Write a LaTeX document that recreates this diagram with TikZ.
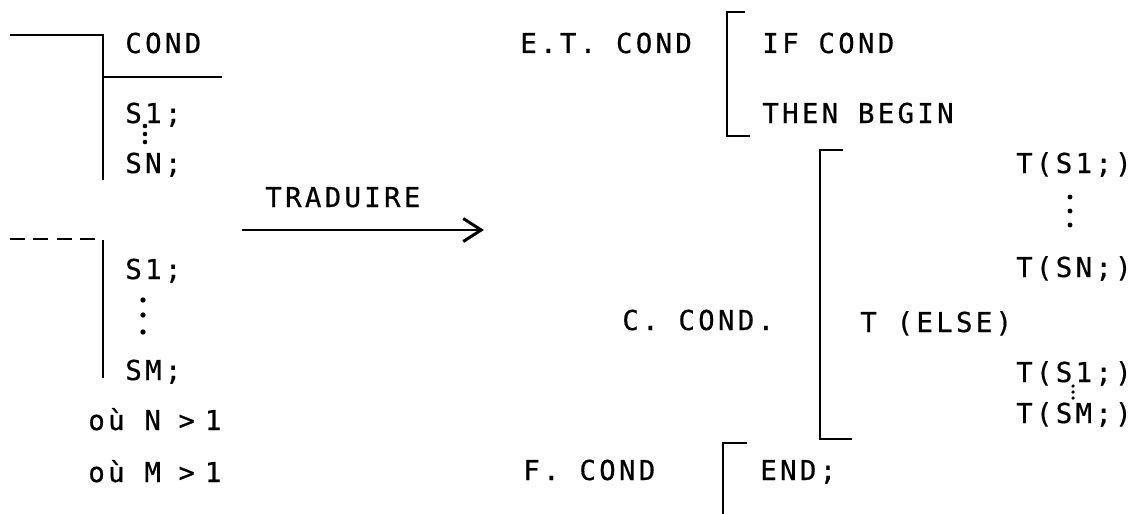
\documentclass[tikz,border=0pt]{standalone}
\usepackage{fontspec}
\setmonofont{DejaVu Sans Mono}[LetterSpace=12, FakeBold=0.6]
\usepackage{tikz}
\usetikzlibrary{arrows.meta}

\tikzset{
  txt/.style={font=\ttfamily\fontsize{15.6}{18}\selectfont, inner sep=0pt,
              text height=0.4cm, text depth=0pt},
  rule/.style={line width=1.7pt},
}

\begin{document}
\begin{tikzpicture}[x=0.02cm, y=-0.02cm]
        \useasboundingbox (0,0) rectangle (1144,514);

        % Left: first block
        \draw[rule] (10,35) -- (103,35) -- (103,180);
        \draw[rule] (103,77) -- (222,77);
        \node[txt, anchor=west] (cond) at (125,43) {COND};
        \node[txt, anchor=west] (sonea) at (125,113) {S1;};
        \node[txt, anchor=west] (sna) at (125,163) {SN;};
        \fill (145,126) circle (1.3pt) (145,134) circle (1.3pt) (145,142) circle (1.3pt);

        % Left: second block (dashed)
        \draw[rule, dash pattern=on 0.3cm off 0.17cm] (10,239) -- (97,239);
        \draw[rule] (103,240) -- (103,378);
        \node[txt, anchor=west] (soneb) at (125,269) {S1;};
        \node[txt, anchor=west] (smb) at (125,370) {SM;};
        \fill (143,300) circle (1.5pt) (143,315) circle (1.5pt) (143,332) circle (1.5pt);
        \node[txt, anchor=west] (oun) at (88,420) {où N\hspace{0.35cm}>\hspace{0.2cm}1};
        \node[txt, anchor=west] (oum) at (88,472) {où M\hspace{0.35cm}>\hspace{0.2cm}1};

        % Translation arrow
        \node[txt, anchor=west] (trad) at (265,197) {TRADUIRE};
        \coordinate (arrfrom) at (242,230);
        \coordinate (arrto) at (484,230);
        \draw[rule, -{Straight Barb[length=3.6mm, width=4.6mm, line width=1.7pt]}] (arrfrom) -- (arrto);

        % E.T. COND
        \node[txt, anchor=west] (etc) at (520,43) {E.T. COND};
        \draw[rule] (745,12) -- (727,12) -- (727,136) -- (750,136);
        \node[txt, anchor=west] (ifc) at (762,43) {IF COND};
        \node[txt, anchor=west] (thenb) at (762,113) {THEN BEGIN};

        % C. COND.
        \node[txt, anchor=west] (ccond) at (622,320) {C. COND.};
        \draw[rule] (843,150) -- (820,150) -- (820,439) -- (852,439);
        \node[txt, anchor=west] (telse) at (860,322) {T (ELSE)};
        \node[txt, anchor=east] (tsonea) at (1132,163) {T(S1;)};
        \node[txt, anchor=east] (tsn) at (1132,267) {T(SN;)};
        \fill (1070,197) circle (1.4pt) (1070,211) circle (1.4pt) (1070,225) circle (1.4pt);
        \node[txt, anchor=east] (tsoneb) at (1132,372) {T(S1;)};
        \node[txt, anchor=east] (tsm) at (1132,413) {T(SM;)};
        \fill (1073,386) circle (1pt) (1073,392) circle (1pt) (1073,398) circle (1pt);

        % F. COND
        \node[txt, anchor=west] (fcond) at (523,470) {F. COND};
        \draw[rule] (747,443) -- (723,443) -- (723,514);
        \node[txt, anchor=west] (endn) at (760,470) {END;};
      \end{tikzpicture}
\end{document}
